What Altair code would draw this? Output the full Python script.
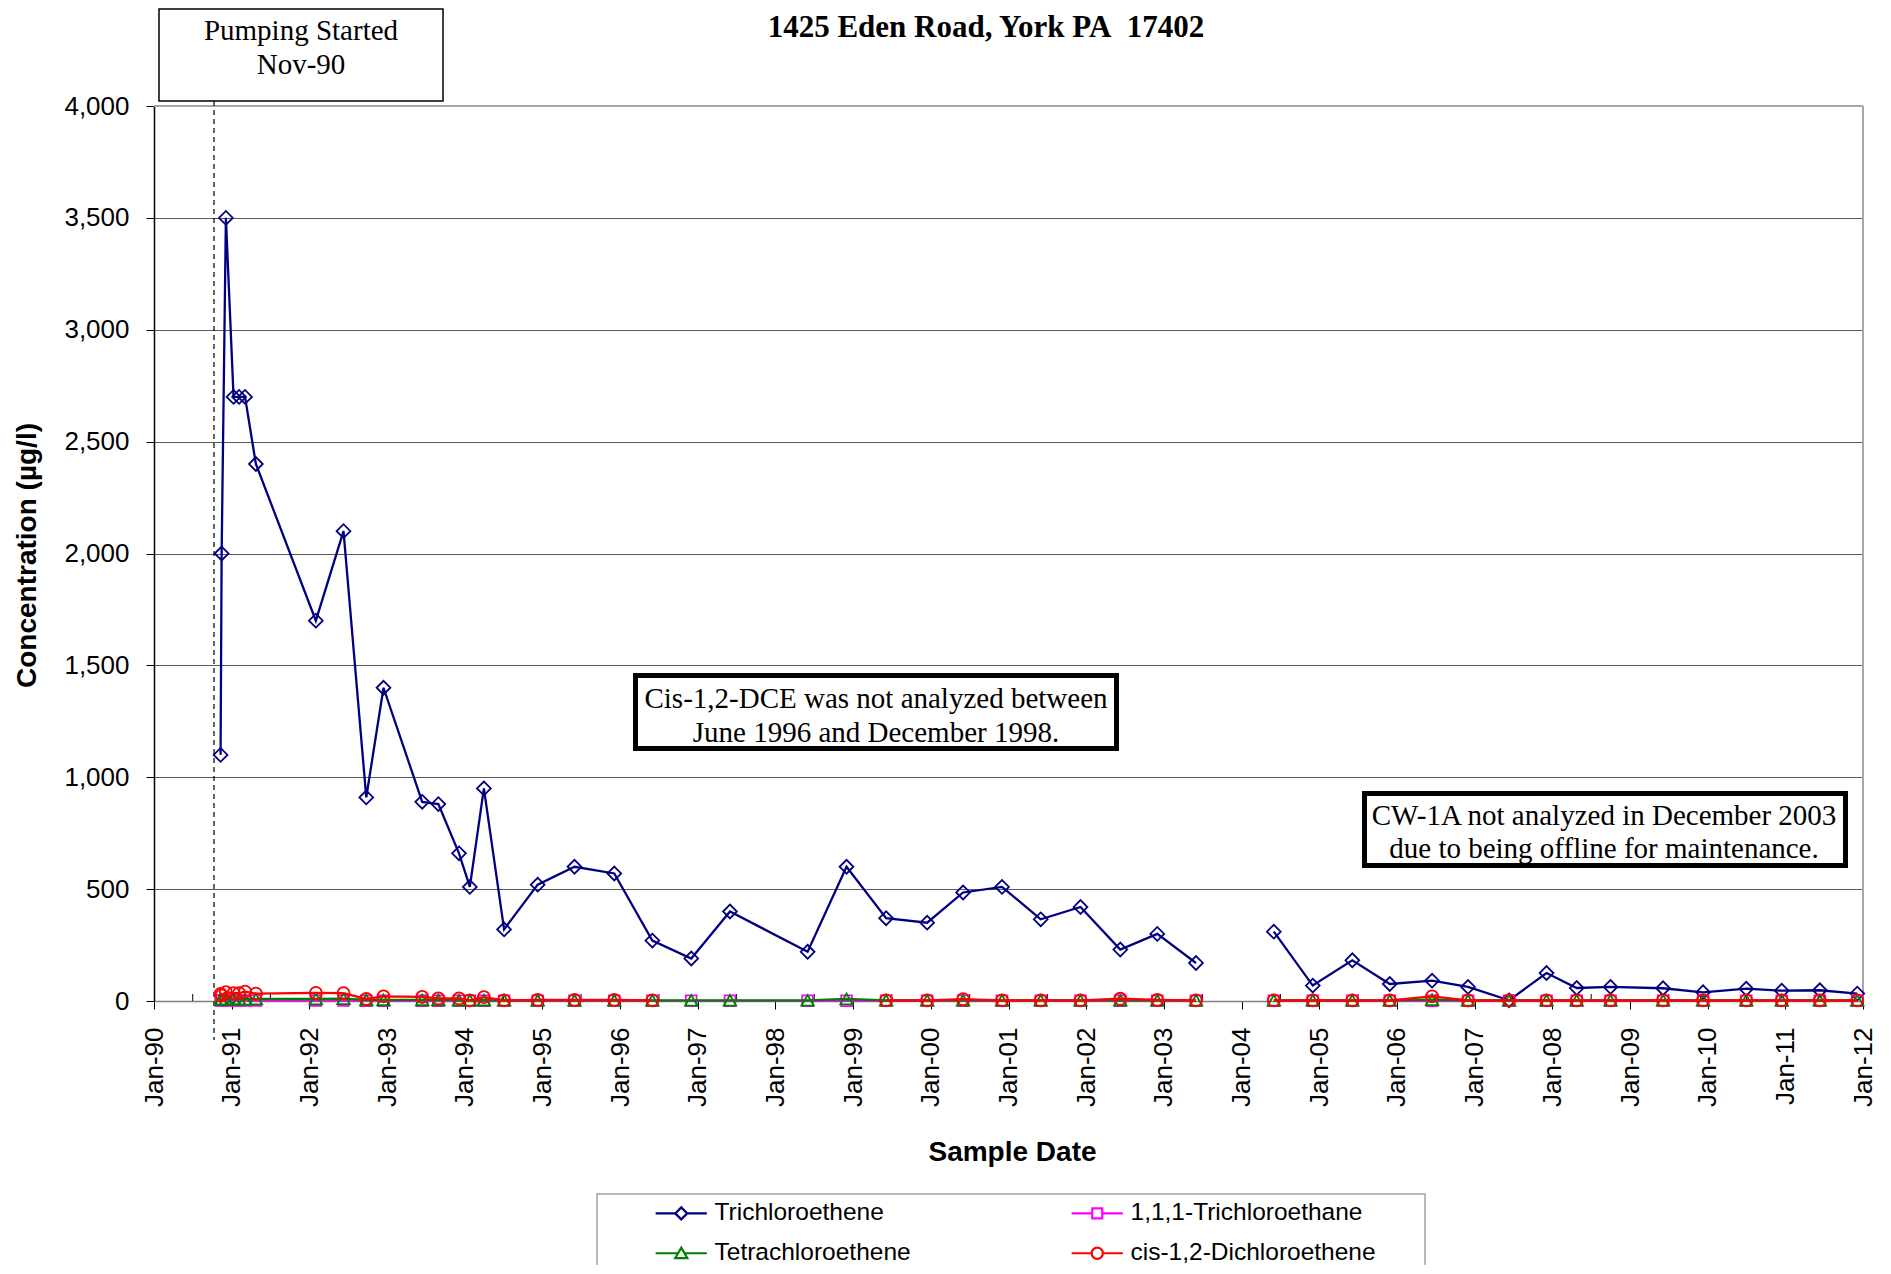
import altair as alt
import pandas as pd

# ---------------- data ----------------
sample_dates = [
    "1990-11-10", "1990-11-15", "1990-12-05", "1991-01-10", "1991-02-05", "1991-03-05", "1991-04-25",
    "1992-02-01", "1992-06-10", "1992-09-25", "1992-12-15",
    "1993-06-15", "1993-08-30", "1993-12-05", "1994-01-25", "1994-04-01", "1994-07-05", "1994-12-10",
    "1995-06-01", "1995-12-05", "1996-06-01", "1996-12-01", "1997-06-01", "1998-06-01", "1998-12-01",
    "1999-06-05", "1999-12-15", "2000-06-01", "2000-12-01", "2001-06-01", "2001-12-05", "2002-06-10",
    "2002-12-01", "2003-06-01", "2003-12-01",
    "2004-06-01", "2004-12-01", "2005-06-05", "2005-11-28", "2006-06-15", "2006-12-01", "2007-06-12",
    "2007-12-05", "2008-04-25", "2008-10-01", "2009-06-05", "2009-12-10", "2010-07-01", "2010-12-15",
    "2011-06-12", "2011-12-05",
]

tce = [1100, 2000, 3500, 2700, 2700, 2700, 2400,
       1700, 2100, 910, 1400,
       890, 880, 660, 510, 950, 320, 520,
       600, 570, 270, 190, 400, 220, 600,
       370, 350, 485, 510, 365, 420, 230, 300, 170, None,
       310, 69, 182, 76, 91, 63, 3, 125, 58, 63, 57, 39, 55, 46, 48, 33]

tca = [2, 2, 2, 2, 2, 2, 2,
       2, 2, 1, 1,
       1, 1, 1, 1, 1, 1, 1,
       1, 1, 1, 1, 1, 1, 1,
       1, 1, 1, 1, 1, 1, 1, 1, 1, None,
       1, 1, 1, 1, 1, 1, 1, 1, 1, 1, 1, 1, 1, 1, 1, 1]

pce = [8, 7, 8, 9, 8, 8, 9,
       9, 10, 5, 5,
       5, 5, 4, 3, 4, 3, 3,
       3, 3, 3, 3, 3, 3, 9,
       3, 3, 3, 3, 3, 3, 3, 3, 3, None,
       3, 3, 3, 3, 6, 3, 3, 3, 3, 3, 3, 3, 3, 3, 3, 3]

dce = [32, 25, 40, 35, 35, 42, 33,
       36, 35, 9, 21,
       18, 12, 12, 3, 17, 3, 5,
       5, 5, 3, None, None, None, None,
       3, 3, 8, 3, 3, 3, 10, 5, 3, None,
       3, 3, 3, 3, 21, 3, 3, 3, 3, 3, 3, 3, 3, 3, 3, 3]

series_names = ["Trichloroethene", "1,1,1-Trichloroethane",
                "Tetrachloroethene", "cis-1,2-Dichloroethene"]
series_values = [tce, tca, pce, dce]

y_ticks = [0, 500, 1000, 1500, 2000, 2500, 3000, 3500, 4000]
x_tick_years = list(range(1990, 2013))

# ---------------- styles ----------------
series_colors = ["#000080", "#FF00FF", "#008000", "#FF0000"]
series_shapes = ["diamond", "square", "triangle-up", "circle"]
series_sizes = [190, 115, 155, 145]
legend_paths = [
    "M-6.4,0H-1.5M1.5,0H6.4M0,-1.5L1.5,0L0,1.5L-1.5,0Z",
    "M-6.4,0H-1.25M1.25,0H6.4M-1.25,-1.25H1.25V1.25H-1.25Z",
    "M-6.4,0H-0.81M0.81,0H6.4M0,-1.4L1.5,1.2H-1.5Z",
    "M-6.4,0H-1.4M1.4,0H6.4M1.4,0A1.4,1.4,0,1,1,-1.4,0A1.4,1.4,0,1,1,1.4,0Z",
]
# legend is filled column by column: put entries so rows read TCE | TCA, PCE | DCE
legend_order = [0, 2, 1, 3]

rows = []
for name, vals in zip(series_names, series_values):
    seg = 0
    for d, v in zip(sample_dates, vals):
        if v is None:
            seg += 1
            continue
        rows.append({"date": d, "value": v, "series": name, "seg": seg})
df = pd.DataFrame(rows)

W, H = 1709, 895
SANS = "Liberation Sans"
SERIF = "Liberation Serif"

x_enc = alt.X(
    "date:T",
    scale=alt.Scale(domain=[alt.DateTime(year=1990, month=1, date=1),
                            alt.DateTime(year=2012, month=1, date=1)]),
    title="Sample Date",
    axis=alt.Axis(
        values=[alt.DateTime(year=y, month=1, date=1) for y in x_tick_years],
        format="%b-%y", labelAngle=270, labelFont=SANS, labelFontSize=26,
        labelColor="black", labelPadding=18, labelFlush=False, labelOverlap=False,
        tickSize=8, tickColor="black", tickWidth=1,
        domainColor="#808080", domainWidth=1.5, grid=False,
        titleFont=SANS, titleFontSize=28, titleFontWeight="bold", titleColor="black",
        titleX=858, titleY=151, titleBaseline="middle", titleAlign="center",
    ),
)
y_enc = alt.Y(
    "value:Q",
    scale=alt.Scale(domain=[0, 4000], nice=False),
    title="Concentration (µg/l)",
    axis=alt.Axis(
        values=y_ticks, format=",d", labelFont=SANS, labelFontSize=26,
        labelColor="black", labelPadding=17, tickSize=8, tickColor="black",
        domainColor="black", domainWidth=1.5, grid=True, gridColor="#5a5a5a",
        gridWidth=1, titleFont=SANS, titleFontSize=28, titleFontWeight="bold",
        titleColor="black", titleX=-127, titleY=449, titleAngle=270,
        titleBaseline="middle", titleAlign="center",
    ),
)

one = pd.DataFrame({"k": [0]})
layers = []

# plot-area border (top and right)
layers.append(alt.Chart(one).mark_rule(color="#a6a6a6", strokeWidth=2).encode(
    x=alt.value(0), x2=alt.value(W), y=alt.value(0)))
layers.append(alt.Chart(one).mark_rule(color="#a6a6a6", strokeWidth=2).encode(
    x=alt.value(W), y=alt.value(0), y2=alt.value(H)))

# minor (mid-year) inside ticks
minor = pd.DataFrame({"date": [f"{y}-07-02" for y in range(1990, 2012)]})
layers.append(alt.Chart(minor).mark_rule(color="black", strokeWidth=1).encode(
    x=x_enc, y=alt.value(H - 7), y2=alt.value(H)))

# pumping-start dashed line
layers.append(alt.Chart(one).mark_rule(color="black", strokeWidth=1.2, strokeDash=[5, 4]).encode(
    x=alt.value(60), y=alt.value(-5), y2=alt.value(934)))

# data series
for name, color, shape, size in zip(series_names, series_colors, series_shapes, series_sizes):
    base = alt.Chart(df).transform_filter(alt.datum.series == name)
    layers.append(base.mark_line(color=color, strokeWidth=2.3).encode(
        x=x_enc, y=y_enc, detail="seg:N"))
    layers.append(base.mark_point(shape=shape, filled=False, color=color, size=size,
                                  strokeWidth=1.8, opacity=1).encode(x=x_enc, y=y_enc))

# annotation boxes
def box(x1, x2, y1, y2, sw, stroke="black"):
    return alt.Chart(one).mark_rect(fill="white", stroke=stroke, strokeWidth=sw).encode(
        x=alt.value(x1), x2=alt.value(x2), y=alt.value(y1), y2=alt.value(y2))

def label(lines, x, y, size=29, weight="normal", lh=33.5):
    return alt.Chart(one).mark_text(text=lines, font=SERIF, fontSize=size, fontWeight=weight,
                                    align="center", baseline="alphabetic", lineHeight=lh,
                                    color="black").encode(x=alt.value(x), y=alt.value(y))

layers.append(box(481.5, 962.5, 569.5, 642.5, 5))
layers.append(label(["Cis-1,2-DCE was not analyzed between", "June 1996 and December 1998."], 722, 602))
layers.append(box(1210.5, 1691.5, 687.5, 759.5, 5))
layers.append(label(["CW-1A not analyzed in December 2003", "due to being offline for maintenance."], 1450, 719, lh=32.5))
layers.append(box(5, 289, -97, -5, 1.5))
layers.append(label(["Pumping Started", "Nov-90"], 147, -66))
layers.append(label("1425 Eden Road, York PA\u00a0 17402", 832, -69, size=31, weight="bold"))

# legend frame + legend
layers.append(box(443, 1271, 1088, 1200, 1.5, stroke="#a0a0a0"))
leg = alt.Legend(title=None, orient="none", legendX=515, legendY=1095, columns=2,
                 labelFont=SANS, labelFontSize=24.5, labelColor="black", labelLimit=500,
                 symbolSize=64, symbolStrokeWidth=2.2, symbolOffset=0, labelOffset=21,
                 columnPadding=156, rowPadding=15, padding=0)
legend_domain = [series_names[i] for i in legend_order]
legend_colors = [series_colors[i] for i in legend_order]
legend_shapes = [legend_paths[i] for i in legend_order]
layers.append(
    alt.Chart(df).transform_filter("false").mark_point(filled=False, strokeWidth=2.2, opacity=1).encode(
        x=x_enc, y=y_enc,
        color=alt.Color("series:N", scale=alt.Scale(domain=legend_domain, range=legend_colors), legend=leg),
        shape=alt.Shape("series:N", scale=alt.Scale(domain=legend_domain, range=legend_shapes), legend=leg),
    )
)

chart = alt.layer(*layers).properties(
    width=W, height=H, autosize="none",
    padding={"left": 146, "top": 98, "right": 20, "bottom": 264},
).configure_view(stroke=None)

chart.save("out.html", embed_options={"renderer": "svg", "actions": False})
